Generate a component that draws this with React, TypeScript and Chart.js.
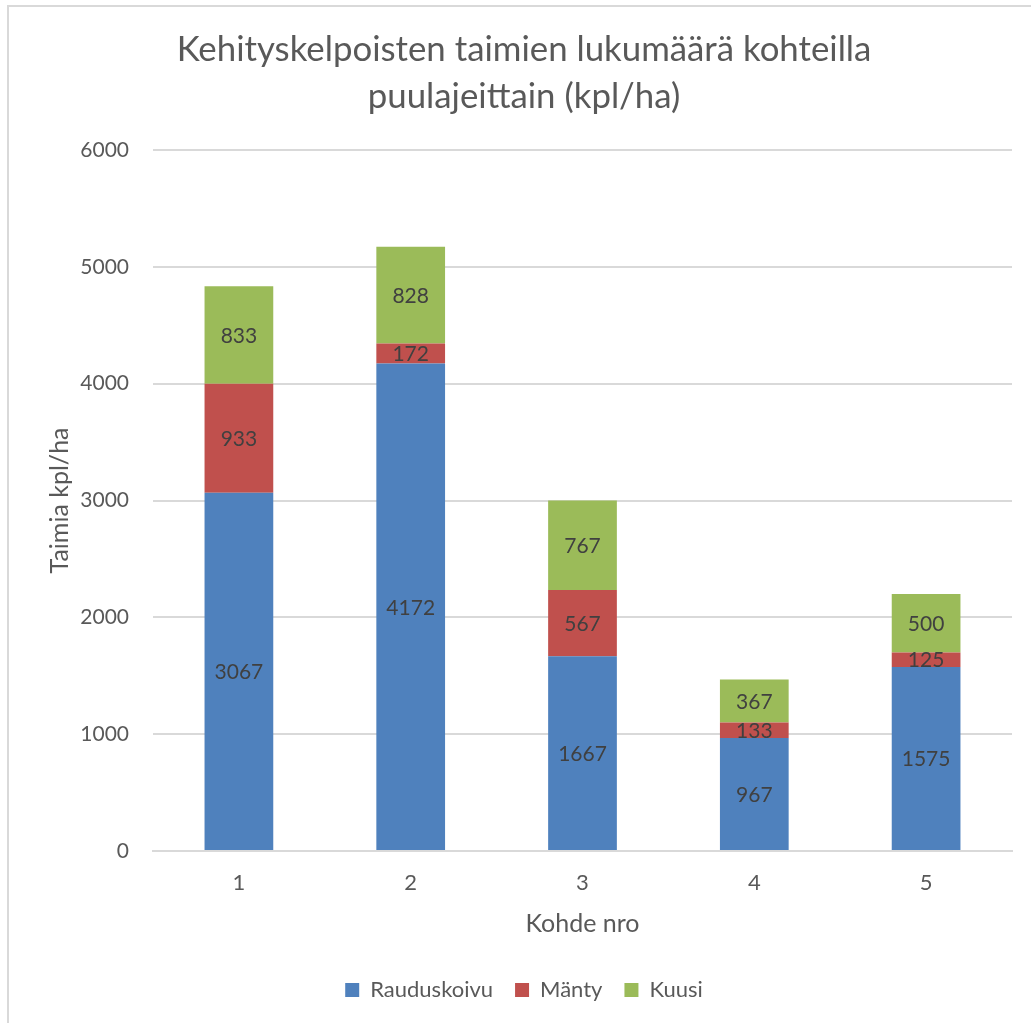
import React, { useEffect, useRef } from "react";
import { Chart, registerables } from "chart.js";

Chart.register(...registerables);

const categories = ["1", "2", "3", "4", "5"];
const rauduskoivu = [3067, 4172, 1667, 967, 1575];
const manty = [933, 172, 567, 133, 125];
const kuusi = [833, 828, 767, 367, 500];
const yTicks = [0, 1000, 2000, 3000, 4000, 5000, 6000];

const FONT = "Lato, 'Open Sans', sans-serif";

const segmentLabels = {
  id: "segmentLabels",
  afterDatasetsDraw(chart: any) {
    const ctx = chart.ctx;
    ctx.save();
    ctx.font = `21px ${FONT}`;
    ctx.fillStyle = "#404040";
    ctx.textAlign = "center";
    ctx.textBaseline = "middle";
    chart.data.datasets.forEach((ds: any, di: number) => {
      const meta = chart.getDatasetMeta(di);
      meta.data.forEach((el: any, i: number) => {
        const p = el.getProps(["x", "y", "base"], true);
        ctx.fillText(String(ds.data[i]), p.x, (p.y + p.base) / 2 + 1);
      });
    });
    ctx.restore();
  },
};

export default function App() {
  const ref = useRef<HTMLCanvasElement | null>(null);
  useEffect(() => {
    if (!ref.current) return;
    const chart = new Chart(ref.current, {
      type: "bar",
      data: {
        labels: categories,
        datasets: [
          { label: "Rauduskoivu", data: rauduskoivu, backgroundColor: "#4F81BD" },
          { label: "Mänty", data: manty, backgroundColor: "#C0504D" },
          { label: "Kuusi", data: kuusi, backgroundColor: "#9BBB59" },
        ],
      },
      options: {
        animation: false,
        responsive: false,
        layout: { padding: { top: 22, left: 36, right: 19, bottom: 12 } },
        datasets: { bar: { categoryPercentage: 1, barPercentage: 0.4 } } as any,
        plugins: {
          title: {
            display: true,
            text: ["Kehityskelpoisten taimien lukumäärä kohteilla", "puulajeittain (kpl/ha)"],
            color: "#595959",
            font: { family: FONT, size: 34.8, weight: "normal" as any, lineHeight: 47 / 34.8 },
            padding: { top: 4.5, bottom: 29.5 },
          },
          legend: {
            position: "bottom",
            labels: {
              color: "#595959",
              font: { family: FONT, size: 22 },
              boxWidth: 14,
              boxHeight: 14,
              padding: 22,
            },
          },
          tooltip: { enabled: false },
        },
        scales: {
          x: {
            stacked: true,
            grid: { display: false, drawTicks: false },
            border: { display: true, color: "#d9d9d9", width: 2 },
            ticks: { color: "#595959", font: { family: FONT, size: 22 }, padding: 19 },
            title: {
              display: true,
              text: "Kohde nro",
              color: "#595959",
              font: { family: FONT, size: 25 },
              padding: { top: 0, bottom: 18 },
            },
            afterFit: (axis: any) => {
              axis.height = 106;
            },
          },
          y: {
            stacked: true,
            min: 0,
            max: 6000,
            afterBuildTicks: (axis: any) => {
              axis.ticks = yTicks.map((v) => ({ value: v }));
            },
            grid: { color: "#d9d9d9", lineWidth: 2, drawTicks: false },
            border: { display: false },
            ticks: {
              color: "#595959",
              font: { family: FONT, size: 21 },
              padding: 24,
              callback: (v: any) => String(v),
            },
            title: {
              display: true,
              text: "Taimia kpl/ha",
              color: "#595959",
              font: { family: FONT, size: 25 },
              padding: { top: 9, bottom: 0 },
            },
            afterFit: (axis: any) => {
              axis.width = 117;
            },
          },
        },
      },
      plugins: [segmentLabels],
    });
    return () => chart.destroy();
  }, []);
  return (
    <div style={{ position: "fixed", left: 0, top: 0, width: 1031, height: 1023, overflow: "hidden", background: "#fff" }}>
      <div
        style={{
          position: "absolute",
          left: 7,
          top: 5,
          width: 1060,
          height: 1060,
          border: "2px solid #d9d9d9",
          boxSizing: "border-box",
        }}
      />
      <canvas ref={ref} width={1031} height={1023} style={{ position: "absolute", left: 0, top: 0 }} />
    </div>
  );
}
